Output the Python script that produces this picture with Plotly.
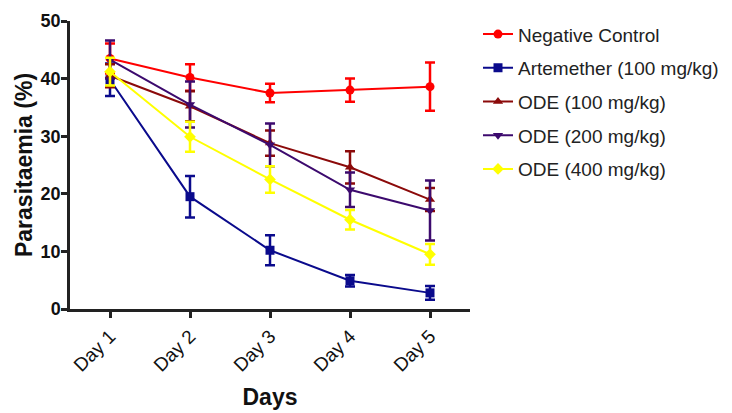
import plotly.graph_objects as go

days = ["Day 1", "Day 2", "Day 3", "Day 4", "Day 5"]

neg_ctrl = [43.5, 40.2, 37.5, 38.0, 38.6]
neg_ctrl_err = [2.6, 2.3, 1.6, 2.0, 4.2]

artemether = [39.8, 19.5, 10.2, 4.9, 2.8]
artemether_err = [2.8, 3.6, 2.6, 1.0, 1.2]

ode100 = [40.5, 35.2, 28.8, 24.6, 19.0]
ode100_err = [2.0, 2.6, 2.2, 2.8, 2.0]

ode200 = [43.3, 35.5, 28.5, 20.7, 17.1]
ode200_err = [3.3, 4.0, 3.7, 3.0, 5.2]

ode400 = [41.2, 29.9, 22.5, 15.5, 9.5]
ode400_err = [2.4, 2.6, 2.3, 1.7, 1.8]

series = [
    ("Negative Control", neg_ctrl, neg_ctrl_err, "#ff0000", "circle"),
    ("Artemether (100 mg/kg)", artemether, artemether_err, "#0a0a8c", "square"),
    ("ODE (100 mg/kg)", ode100, ode100_err, "#8b0a0a", "triangle-up"),
    ("ODE (200 mg/kg)", ode200, ode200_err, "#3c0a6e", "triangle-down"),
    ("ODE (400 mg/kg)", ode400, ode400_err, "#ffff00", "diamond"),
]

fig = go.Figure()
for i, (name, vals, errs, color, sym) in enumerate(series):
    fig.add_trace(go.Scatter(
        x=days, y=vals, name=name, mode="lines+markers",
        line=dict(color=color, width=2),
        marker=dict(color=color, symbol=sym, size=9),
        error_y=dict(type="data", array=errs, visible=True,
                     color=color, thickness=2.5, width=5),
        legendgroup=f"g{i}",
    ))

# page body has an 8px default margin, so the figure is sized to fit inside it
fig.update_layout(
    width=724, height=405,
    margin=dict(l=62, r=262, t=7, b=104),
    paper_bgcolor="white", plot_bgcolor="white",
    font=dict(family="Liberation Sans, Arial, sans-serif", color="#111"),
    showlegend=True,
    legend=dict(
        x=1.02, y=1.02, xanchor="left", yanchor="top",
        font=dict(size=19, color="#222"),
        itemwidth=30, tracegroupgap=6, traceorder="grouped",
        bgcolor="rgba(0,0,0,0)",
    ),
    xaxis=dict(
        type="category", range=[-0.5, 4.5], automargin=False,
        showline=True, linecolor="#222", linewidth=2.5,
        ticks="outside", ticklen=6, tickwidth=2.5, tickcolor="#222",
        tickangle=-45, tickfont=dict(size=19, color="#111"),
        showgrid=False, zeroline=False,
        title=dict(text="<b>Days</b>", font=dict(size=23, color="#111")),
    ),
    yaxis=dict(
        range=[0, 50], tickvals=[0, 10, 20, 30, 40, 50], automargin=False,
        showline=True, linecolor="#222", linewidth=2.5,
        ticks="outside", ticklen=6, tickwidth=2.5, tickcolor="#222",
        ticklabelstandoff=-3,
        tickfont=dict(size=18, color="#111", weight="bold"),
        showgrid=False, zeroline=False,
        title=dict(text="<b>Parasitaemia (%)</b>", font=dict(size=23, color="#111"),
                   standoff=2),
    ),
)

fig.write_html("out.html")
